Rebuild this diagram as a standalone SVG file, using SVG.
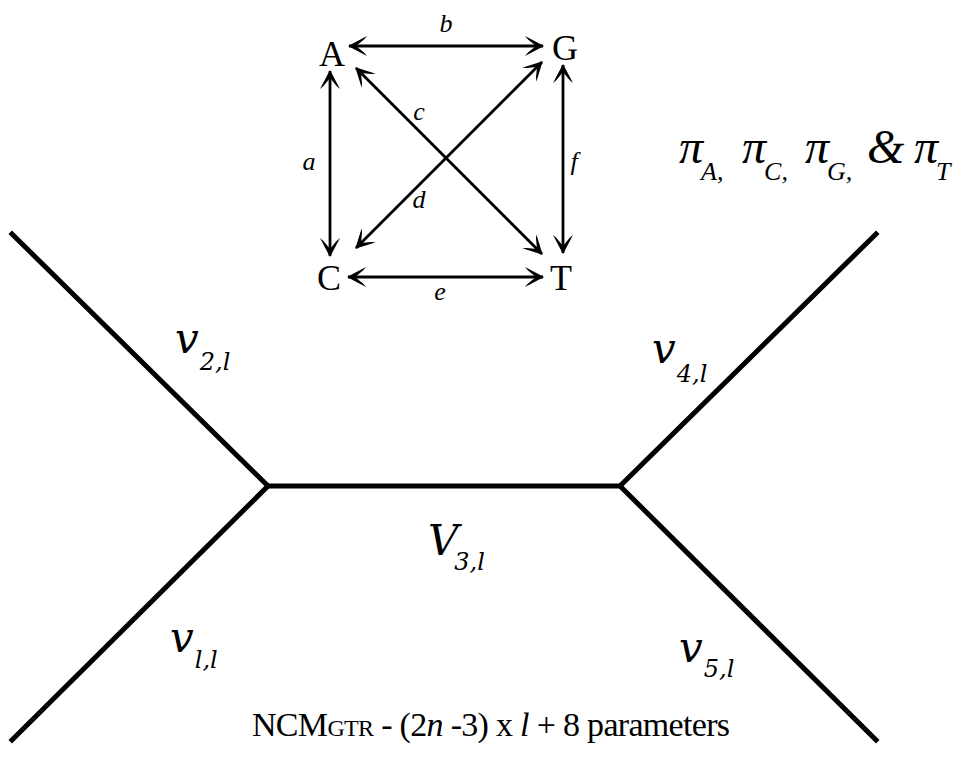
<svg xmlns="http://www.w3.org/2000/svg" width="963" height="763" viewBox="0 0 963 763">
<style>
.tree{stroke:#000;stroke-width:5;fill:none;stroke-linecap:square}
.arr{stroke:#000;stroke-width:2.8;fill:none;marker-start:url(#h);marker-end:url(#h)}
.nuc{font-family:"Liberation Serif",serif;font-size:36px;text-anchor:middle;fill:#000}
.lab{font-family:"Liberation Serif",serif;font-style:italic;font-size:26px;text-anchor:middle;fill:#000}
.v{font-family:"DejaVu Serif","Liberation Serif",serif;font-style:italic;fill:#000}
.big{font-size:42px}
.sub{font-size:24px}
.pi{font-family:"Liberation Serif",serif;font-style:italic;font-size:48px;fill:#000}
.ps{font-size:26px}
.eq{font-family:"Liberation Serif",serif;font-size:34px;fill:#000}
</style>
<defs>
<marker id="h" viewBox="-22 -12 26 24" refX="0" refY="0" markerWidth="26" markerHeight="24" markerUnits="userSpaceOnUse" orient="auto-start-reverse">
<path d="M1,0 L-18,-10 L-15,-6.5 L-7,0 L-15,6.5 L-18,10 Z" fill="#000"/>
</marker>
</defs>
<g id="tree" class="tree">
<path d="M12,234 L268,486 L620,486 L876,234"/>
<path d="M12,740 L268,486"/>
<path d="M620,486 L876,740"/>
</g>
<g id="connectors">
<line class="arr" x1="349" y1="46" x2="543" y2="46"/>
<line class="arr" x1="348" y1="277" x2="543" y2="277"/>
<line class="arr" x1="330" y1="71" x2="330" y2="256"/>
<line class="arr" x1="563" y1="65" x2="563" y2="253"/>
<line class="arr" x1="356" y1="68" x2="542" y2="254"/>
<line class="arr" x1="356" y1="248" x2="542" y2="62"/>
</g>
<g id="node-A"><text class="nuc" x="332" y="66">A</text></g>
<g id="node-G"><text class="nuc" x="565" y="60">G</text></g>
<g id="node-C"><text class="nuc" x="329" y="290">C</text></g>
<g id="node-T"><text class="nuc" x="561" y="290">T</text></g>
<g id="labels">
<text class="lab" x="446" y="32">b</text>
<text class="lab" x="309" y="170">a</text>
<text class="lab" x="574" y="170">f</text>
<text class="lab" x="419" y="120">c</text>
<text class="lab" x="419" y="208">d</text>
<text class="lab" x="440" y="300">e</text>
</g>
<g id="pi">
<text class="pi" x="679" y="163">π<tspan class="ps" dx="-2" dy="17">A</tspan><tspan class="ps">,</tspan></text>
<text class="pi" x="742" y="163">π<tspan class="ps" dx="-2" dy="17">C</tspan><tspan class="ps">,</tspan></text>
<text class="pi" x="805" y="163">π<tspan class="ps" dx="-2" dy="17">G</tspan><tspan class="ps">,</tspan></text>
<text class="pi" x="867" y="163" font-style="normal" font-size="44">&amp;</text>
<text class="pi" x="914" y="163">π<tspan class="ps" dx="-2" dy="17">T</tspan></text>
</g>
<g id="branch-labels">
<text class="v" x="175" y="353"><tspan class="big">v</tspan><tspan class="sub" dx="1" dy="17">2,l</tspan></text>
<text class="v" x="652" y="363"><tspan class="big">v</tspan><tspan class="sub" dx="1" dy="19">4,l</tspan></text>
<text class="v" x="428" y="555"><tspan class="big">V</tspan><tspan class="sub" dx="-4" dy="15">3,l</tspan></text>
<text class="v" x="170" y="652"><tspan class="big">v</tspan><tspan class="sub" dx="1" dy="16">l,l</tspan></text>
<text class="v" x="679" y="662"><tspan class="big">v</tspan><tspan class="sub" dx="1" dy="15">5,l</tspan></text>
</g>
<g id="formula">
<text class="eq" x="252" y="736" textLength="478" lengthAdjust="spacing">NCM<tspan font-size="24">GTR</tspan> - (2<tspan font-style="italic">n</tspan> -3) x <tspan font-style="italic">l</tspan> + 8 parameters</text>
</g>
</svg>
